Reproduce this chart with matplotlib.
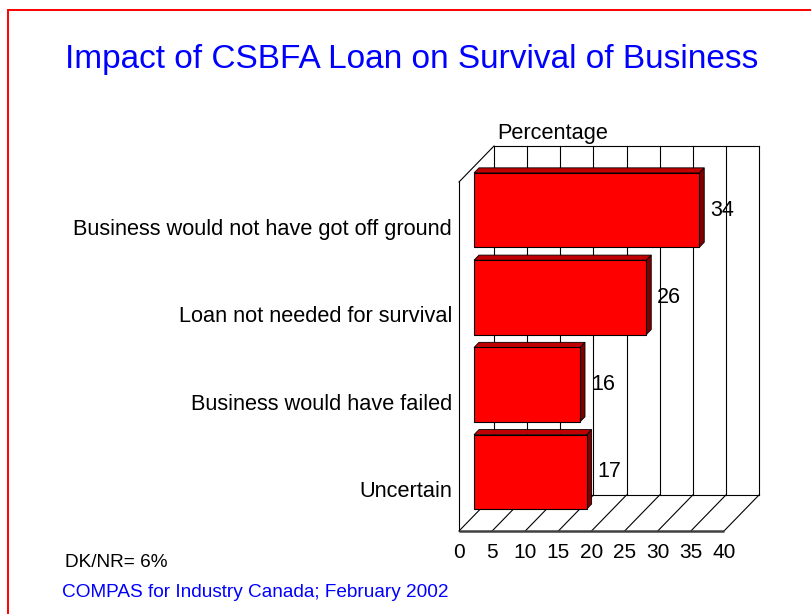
import numpy as np
import matplotlib
matplotlib.use("Agg")
import matplotlib.pyplot as plt
from matplotlib.patches import Polygon, Rectangle
from matplotlib.lines import Line2D
from matplotlib.transforms import ScaledTranslation, IdentityTransform

plt.rcParams['font.family'] = ['Liberation Sans', 'DejaVu Sans']

categories = ["Business would not have got off ground",
              "Loan not needed for survival",
              "Business would have failed",
              "Uncertain"]
values = [34, 26, 16, 17]
ticks = [0, 5, 10, 15, 20, 25, 30, 35, 40]

title = "Impact of CSBFA Loan on Survival of Business"
note = "DK/NR= 6%"
source = "COMPAS for Industry Canada; February 2002"

W, H = 811, 614
fig = plt.figure(figsize=(W / 100, H / 100), dpi=100)
fig.patch.set_facecolor("white")

# slide frame
fig.add_artist(Rectangle((7.5 / W, -0.1), 2, 1.1 - 10.5 / H, transform=fig.transFigure,
                         fill=False, edgecolor="#ff0000", lw=1.4, clip_on=False))

# front plane of the 3d box
ax = fig.add_axes([459 / W, 1 - 531 / H, (724 - 459) / W, (531 - 182) / H])
ax.axis("off")
ax.set_xlim(0, 40)
ax.set_ylim(3.5, -0.5)

DX, DY = 35, 36   # full depth in pixels


def shifted(dx, dy):
    return ax.transData + ScaledTranslation(dx / 100, dy / 100, fig.dpi_scale_trans)


def depth(d):
    return shifted(DX * d, DY * d)


def px(v, y, d):
    p = ax.transData.transform((v, y))
    return (p[0] + DX * d * fig.dpi / 100, p[1] + DY * d * fig.dpi / 100)


def seg(p, q, **kw):
    ax.add_line(Line2D([p[0], q[0]], [p[1], q[1]], transform=IdentityTransform(),
                       clip_on=False, zorder=1, **kw))


lw = 0.8
top, bot = -0.5, 3.5

# back wall with gridlines
for t in ticks:
    ax.plot([t, t], [top, bot], color="black", lw=lw, transform=depth(1), clip_on=False, zorder=1)
ax.plot([0, 40], [top, top], color="black", lw=lw, transform=depth(1), clip_on=False, zorder=1)
ax.plot([0, 40], [bot, bot], color="black", lw=lw, transform=depth(1), clip_on=False, zorder=1)

# left wall
seg(px(0, top, 0), px(0, top, 1), color="black", lw=lw)
ax.plot([0, 0], [top, bot], color="black", lw=lw, clip_on=False, zorder=1)

# floor
for t in ticks:
    seg(px(t, bot, 0), px(t, bot, 1), color="black", lw=lw)
ax.plot([0, 40], [bot, bot], color="#404040", lw=1.8, clip_on=False,
        solid_capstyle="butt", zorder=1.5)

# bars
d0, d1 = 15 / DX, 20 / DX
bh = 0.853
ypos = np.arange(len(values))
for i, v in enumerate(values):
    y0, y1 = i - bh / 2, i + bh / 2
    side = [px(v, y0, d0), px(v, y0, d1), px(v, y1, d1), px(v, y1, d0)]
    topf = [px(0, y0, d0), px(v, y0, d0), px(v, y0, d1), px(0, y0, d1)]
    ax.add_patch(Polygon(side, closed=True, facecolor="#800000", edgecolor="black",
                         lw=0.6, transform=IdentityTransform(), clip_on=False, zorder=3))
    ax.add_patch(Polygon(topf, closed=True, facecolor="#c00000", edgecolor="black",
                         lw=0.6, transform=IdentityTransform(), clip_on=False, zorder=3))
ax.barh(ypos, values, height=bh, left=0, color="#ff0000", edgecolor="black", lw=0.8,
        transform=depth(d0), clip_on=False, zorder=3.5)
ax.set_xlim(0, 40)
ax.set_ylim(3.5, -0.5)

# value labels
for i, v in enumerate(values):
    ax.text(v, i, str(v), ha="left", va="center", fontsize=15.5, zorder=4,
            transform=shifted(DX * d0 + 11, DY * d0))

# category labels
for i, c in enumerate(categories):
    ax.text(0, i, c, ha="right", va="center", fontsize=15.7, transform=shifted(-7, -4))

# value axis ticks
for t in ticks:
    ax.text(t, bot, str(t), ha="center", va="center", fontsize=15,
            transform=shifted(0, -21.7))

fig.text(553 / W, 1 - 133.5 / H, "Percentage", ha="center", va="center", fontsize=15.7)
fig.text(411.5 / W, 1 - 68.3 / H, title, ha="center", va="baseline", fontsize=24,
         color="#0000ff")
fig.text(65 / W, 1 - 566.7 / H, note, ha="left", va="baseline", fontsize=13.7)
fig.text(61.7 / W, 1 - 596.7 / H, source, ha="left", va="baseline", fontsize=13.7,
         color="#0000ff")

fig.savefig("out.png", dpi=100)
